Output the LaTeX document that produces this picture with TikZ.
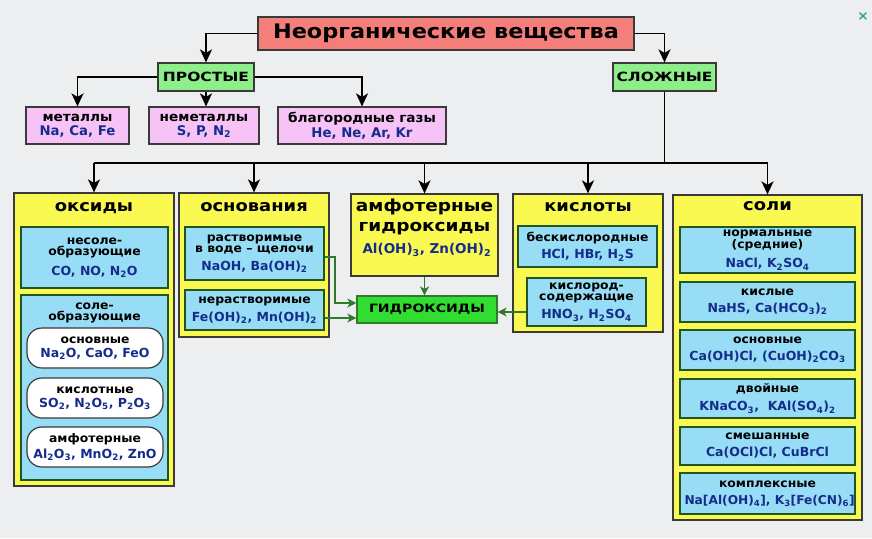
\documentclass[tikz,border=0pt]{standalone}
\usepackage{fontspec}
\setmainfont[FakeStretch=1.05]{DejaVu Sans}
\newfontfamily\hfont[FakeStretch=1.12]{DejaVu Sans}
\newfontfamily\cfont[FakeStretch=1.22]{DejaVu Sans}
\newfontfamily\formfont{DejaVu Sans}
\usetikzlibrary{arrows.meta}
\definecolor{bg}{HTML}{ECEEEF}
\definecolor{salmon}{HTML}{F47F7A}
\definecolor{lgreen}{HTML}{8EEE8A}
\definecolor{pinkb}{HTML}{F7C3F7}
\definecolor{yel}{HTML}{F9F951}
\definecolor{lblue}{HTML}{97DDF5}
\definecolor{brgreen}{HTML}{30DD30}
\definecolor{fblue}{HTML}{152C8C}
\definecolor{dgreen}{HTML}{2F7A2F}
\definecolor{edgec}{HTML}{3A3A3A}
\definecolor{tealc}{HTML}{2AA198}
\newcommand\fsz[2]{\fontsize{#1}{#2}\selectfont}
\newcommand\fm{\color{fblue}\formfont\fsz{12.5}{12}}
\newcommand\fmp{\color{fblue}\formfont\fsz{13.3}{13}}
\newcommand\ssub[1]{\textsubscript{#1}}
\begin{document}
\begin{tikzpicture}[x=1pt,y=-1pt,
  sz/.style 2 args={minimum width=#1, minimum height=#2},
  box/.style={draw=edgec, line width=1.2pt, inner sep=0pt, align=center, font=\bfseries\fsz{11.8}{11}},
  cat/.style={box, fill=lgreen, font=\cfont\bfseries\fsz{12.7}{13}},
  elem/.style={box, fill=pinkb, font=\bfseries\fsz{13}{12}},
  big/.style={box, fill=yel},
  inner/.style={box, fill=lblue, draw=dgreen!70!black},
  pill/.style={box, fill=white, rounded corners=15pt},
  head/.style={inner sep=0pt, align=center, font=\hfont\bfseries\fsz{16}{19}},
  lab/.style={inner sep=0pt, align=center, font=\bfseries\fsz{11.8}{11}},
  arr/.style={line width=1.8pt, -{Stealth[length=13pt,width=12pt,inset=3.5pt]}},
  garr/.style={draw=dgreen, line width=1.5pt, -{Stealth[length=9pt,width=9pt,inset=2.5pt]}}]
\fill[bg] (0,0) rectangle (872,538);
\useasboundingbox (0,0) rectangle (872,538);

% top level
\node[box, fill=salmon, sz={376}{33}, font=\hfont\bfseries\fsz{20}{24}] (title) at (446,33.5) {Неорганические вещества};
\node[cat, sz={96}{28}] (prost) at (206,77) {ПРОСТЫЕ};
\node[cat, sz={103}{28}] (slozh) at (664.5,77) {СЛОЖНЫЕ};
\node[elem, sz={103}{37}] (met) at (77.5,125.5) {металлы\\[2pt]\fmp Na, Ca, Fe};
\node[elem, sz={110}{37}] (nemet) at (204,125.5) {неметаллы\\[2pt]\fmp S, P, N\ssub{2}};
\node[elem, sz={168}{37}] (blag) at (362,125.5) {благородные газы\\[2pt]\fmp He, Ne, Ar, Kr};
\node[text=tealc, font=\bfseries\fsz{13}{13}, inner sep=0pt] (close) at (863,17) {×};

\draw[arr] (title.west) -| (prost.north);
\draw[arr] (title.east) -| (slozh.north);
\draw[arr] (prost.west) -| (met.north);
\draw[arr] (prost.south) -- (prost.south |- nemet.north);
\draw[arr] (prost.east) -| (blag.north);

% big boxes
\node[big, sz={160}{293}] (oks) at (94,339.5) {};
\node[big, sz={150}{144}] (osn) at (254,265) {};
\node[big, sz={147}{82}] (amf) at (424.5,235) {};
\node[big, sz={150}{138}] (kis) at (588,263) {};
\node[big, sz={189}{325}] (soli) at (767.5,357.5) {};

\coordinate (bus) at (0,163);
\draw[line width=1.8pt] (slozh.south) -- (slozh.south |- bus);
\draw[line width=1.8pt] (oks.north |- bus) -- (soli.north |- bus);
\foreach \n in {oks,osn,amf,kis,soli}
  \draw[arr] (\n.north |- bus) -- (\n.north);

% оксиды
\node[head] (oksT) at (94,208) {оксиды};
\node[inner, sz={147}{61}] (ok1) at (94.5,257.5) {несоле-\\образующие\\[7pt]\fm CO, NO, N\ssub{2}O};
\node[inner, sz={147}{185}] (ok2) at (94.5,387.5) {};
\node[lab] (ok2T) at (94.5,312.5) {соле-\\образующие};
\node[pill, sz={136}{40}] (p1) at (95,348) {основные\\[3pt]\fm Na\ssub{2}O, CaO, FeO};
\node[pill, sz={136}{40}] (p2) at (95,398) {кислотные\\[3pt]\fm SO\ssub{2}, N\ssub{2}O\ssub{5}, P\ssub{2}O\ssub{3}};
\node[pill, sz={136}{40}] (p3) at (95,447) {амфотерные\\[3pt]\fm Al\ssub{2}O\ssub{3}, MnO\ssub{2}, ZnO};

% основания
\node[head] (osnT) at (254,207) {основания};
\node[inner, sz={139}{53}] (os1) at (254.5,253.5) {растворимые\\в воде -- щелочи\\[6pt]\fm NaOH, Ba(OH)\ssub{2}};
\node[inner, sz={139}{40}] (os2) at (254.5,310) {нерастворимые\\[5pt]\fm Fe(OH)\ssub{2}, Mn(OH)\ssub{2}};

% амфотерные
\node[head, font=\hfont\bfseries\fsz{16.5}{19.5}] (amfT) at (424.5,217) {амфотерные\\гидроксиды};
\node[lab] (amfF) at (424.5,250) {\fm\fsz{13.5}{13} Al(OH)\ssub{3}, Zn(OH)\ssub{2}};

% гидроксиды
\node[box, fill=brgreen, draw=dgreen, sz={140}{27}, font=\cfont\bfseries\fsz{11.5}{12}] (gidr) at (427,309.5) {ГИДРОКСИДЫ};

% кислоты
\node[head] (kisT) at (588,207) {кислоты};
\node[inner, sz={139}{41}] (k1) at (587.5,246.5) {бескислородные\\[5pt]\fm HCl, HBr, H\ssub{2}S};
\node[inner, sz={119}{48}] (k2) at (586.5,302) {кислород-\\содержащие\\[6pt]\fm HNO\ssub{3}, H\ssub{2}SO\ssub{4}};

% соли
\node[head] (soliT) at (767.5,206) {соли};
\node[inner, sz={175}{46}] (s1) at (767.5,250) {нормальные\\(средние)\\[6pt]\fm NaCl, K\ssub{2}SO\ssub{4}};
\node[inner, sz={175}{40}] (s2) at (767.5,302) {кислые\\[6pt]\fm NaHS, Ca(HCO\ssub{3})\ssub{2}};
\node[inner, sz={175}{40}] (s3) at (767.5,350) {основные\\[6pt]\fm Ca(OH)Cl, (CuOH)\ssub{2}CO\ssub{3}};
\node[inner, sz={175}{39}] (s4) at (767.5,398.5) {двойные\\[6pt]\fm KNaCO\ssub{3},\ \ KAl(SO\ssub{4})\ssub{2}};
\node[inner, sz={175}{38}] (s5) at (767.5,446) {смешанные\\[6pt]\fm Ca(OCl)Cl, CuBrCl};
\node[inner, sz={175}{41}] (s6) at (767.5,493.5) {комплексные\\[6pt]\fm\fsz{12.2}{12} Na[Al(OH)\ssub{4}], K\ssub{3}[Fe(CN)\ssub{6}]};

% green arrows
\coordinate (g1) at (335,303);
\draw[garr] ([yshift=-3.5pt]os1.east) -| (g1) -- (g1 -| gidr.west);
\draw[garr] ([yshift=-8pt]os2.east) -- ([yshift=-8pt]os2.east -| gidr.west);
\draw[garr] (amf.south) -- (amf.south |- gidr.north);
\draw[garr] ([yshift=-10pt]k2.west) -- ([yshift=-10pt]k2.west -| gidr.east);
\end{tikzpicture}
\end{document}
